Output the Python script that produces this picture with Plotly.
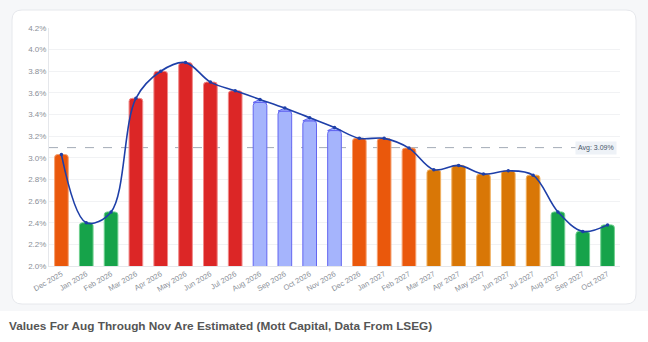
import plotly.graph_objects as go

# Monthly values (%), Dec 2025 - Oct 2027
months = ["Dec 2025", "Jan 2026", "Feb 2026", "Mar 2026", "Apr 2026", "May 2026",
          "Jun 2026", "Jul 2026", "Aug 2026", "Sep 2026", "Oct 2026", "Nov 2026",
          "Dec 2026", "Jan 2027", "Feb 2027", "Mar 2027", "Apr 2027", "May 2027",
          "Jun 2027", "Jul 2027", "Aug 2027", "Sep 2027", "Oct 2027"]
values = [3.03, 2.40, 2.50, 3.55, 3.80, 3.88, 3.70, 3.62, 3.54, 3.46, 3.37, 3.28,
          3.18, 3.18, 3.09, 2.89, 2.93, 2.85, 2.88, 2.84, 2.50, 2.32, 2.38]
estimated = ["Aug 2026", "Sep 2026", "Oct 2026", "Nov 2026"]
y_ticks = [2.0, 2.2, 2.4, 2.6, 2.8, 3.0, 3.2, 3.4, 3.6, 3.8, 4.0, 4.2]

W, H = 648, 342
ML, MR, MT, MB = 49, 28, 28, 76
PW, PH = W - ML - MR, H - MT - MB


def px_x(p):
    return (p - ML) / PW


def px_y(p):
    return (H - MB - p) / PH


def bar_colour(month, v):
    if month in estimated:
        return "#a5b4fc", "#6366f1"
    if v >= 3.5:
        return "#dc2626", "#f08a8a"
    if v >= 3.0:
        return "#ea580c", "#f5a070"
    if v >= 2.6:
        return "#d97706", "#f0b060"
    return "#16a34a", "#6fd08f"


idx = list(range(len(months)))
cap = 0.028
bar_w = 0.55
fills, edges, heights = [], [], []
for m, v in zip(months, values):
    f, e = bar_colour(m, v)
    fills.append(f)
    edges.append(e)
    heights.append(v - cap if m in estimated else v)

avg = sum(values) / len(values)

fig = go.Figure()
fig.add_trace(go.Bar(
    x=idx, y=heights, width=bar_w,
    marker=dict(color=fills, line=dict(color=edges, width=1)),
    hoverinfo="skip", showlegend=False,
))

# pointed caps on estimated months
cx, cy = [], []
for i, (m, v) in enumerate(zip(months, values)):
    if m in estimated:
        cx += [i - bar_w / 2, i, i + bar_w / 2, i - bar_w / 2, None]
        cy += [v - cap, v, v - cap, v - cap, None]
fig.add_trace(go.Scatter(
    x=cx, y=cy, mode="lines", fill="toself", fillcolor="#a5b4fc",
    line=dict(color="#6366f1", width=1), hoverinfo="skip", showlegend=False,
))

fig.add_trace(go.Scatter(
    x=idx, y=values, mode="lines+markers",
    line=dict(color="#1e3fa8", width=1.6, shape="spline", smoothing=1.0),
    marker=dict(size=3.5, color="#1e3fa8"),
    showlegend=False,
))

r = 10
x0, x1 = px_x(12), px_x(636)
y0, y1 = px_y(304), px_y(10)
rx, ry = r / PW, r / PH
card = (f"M {x0 + rx},{y1} L {x1 - rx},{y1} Q {x1},{y1} {x1},{y1 - ry} "
        f"L {x1},{y0 + ry} Q {x1},{y0} {x1 - rx},{y0} L {x0 + rx},{y0} "
        f"Q {x0},{y0} {x0},{y0 + ry} L {x0},{y1 - ry} Q {x0},{y1} {x0 + rx},{y1} Z")

fig.update_layout(
    width=W, height=H,
    margin=dict(l=ML, r=MR, t=MT, b=MB),
    paper_bgcolor="white", plot_bgcolor="rgba(0,0,0,0)",
    barcornerradius=3,
    font=dict(family="Liberation Sans, Arial, sans-serif", color="#8a8f98", size=8),
    shapes=[
        dict(type="rect", xref="paper", yref="paper", x0=px_x(0), x1=px_x(W),
             y0=px_y(311), y1=px_y(0), fillcolor="#f6f7f9", line=dict(width=0),
             layer="below"),
        dict(type="path", xref="paper", yref="paper", path=card, fillcolor="white",
             line=dict(color="#e6e8ec", width=1), layer="below"),
        dict(type="line", xref="paper", yref="y", x0=0, x1=1, y0=avg, y1=avg,
             line=dict(color="#a3abb7", width=1, dash="dash"), layer="between"),
    ],
    annotations=[
        dict(text=f"Avg: {avg:.2f}%", xref="paper", yref="y", x=px_x(617), y=avg,
             xanchor="right", yanchor="middle", showarrow=False,
             bgcolor="#eef2f7", borderpad=2,
             font=dict(size=7, color="#475569")),
        dict(text="<b>Values For Aug Through Nov Are Estimated (Mott Capital, Data From LSEG)</b>",
             xref="paper", yref="paper", x=px_x(7), y=px_y(326),
             xanchor="left", yanchor="middle", showarrow=False,
             font=dict(size=11.8, color="#555555",
                       family="Liberation Sans, Arial, sans-serif")),
    ],
)

fig.update_xaxes(
    range=[-0.5, len(months) - 0.5], tickmode="array", tickvals=idx, ticktext=months,
    tickangle=-30, tickfont=dict(size=7.5, color="#8a8f98"),
    showgrid=False, showline=True, linecolor="#e5e7eb", linewidth=1,
    ticks="", zeroline=False,
)
fig.update_yaxes(
    range=[2.0, 4.2], tickmode="array", tickvals=y_ticks,
    ticktext=[f"{t:.1f}%" for t in y_ticks],
    tickfont=dict(size=8, color="#8a8f98"),
    showgrid=True, gridcolor="#f1f2f4", gridwidth=1,
    showline=True, linecolor="#e5e7eb", linewidth=1, zeroline=False, ticks="",
)

fig.write_html("out.html")
